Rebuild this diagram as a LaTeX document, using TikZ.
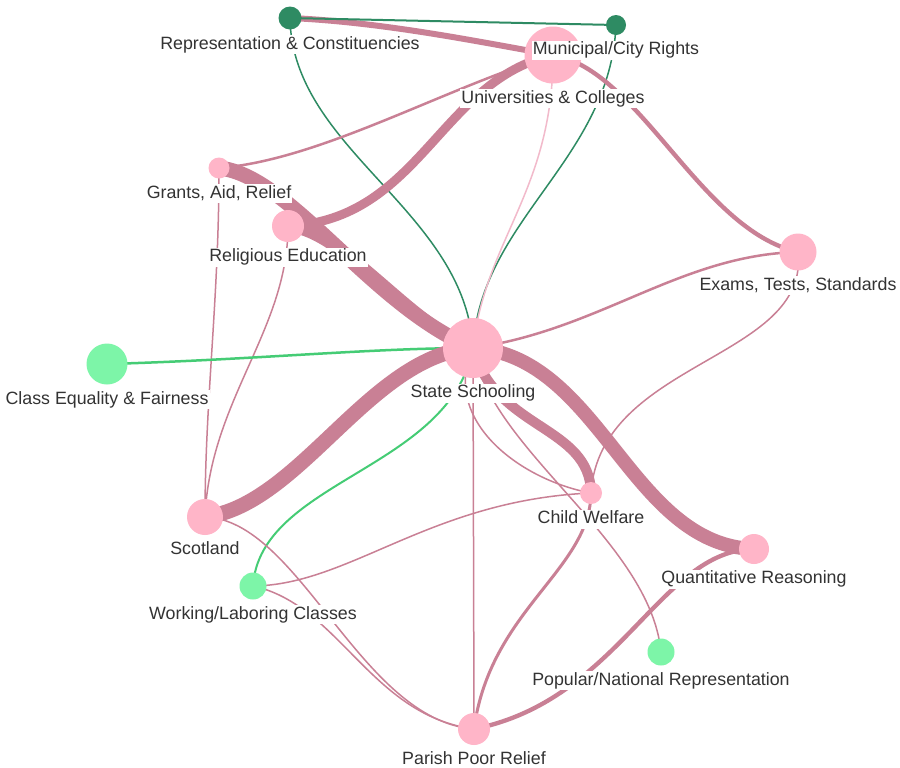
\documentclass[tikz,border=0pt]{standalone}
\usepackage{fontspec}
\setmainfont{Liberation Sans}
\usetikzlibrary{positioning,backgrounds}
\definecolor{tpPink}{HTML}{FFB5C8}
\definecolor{tpRose}{HTML}{C98095}
\definecolor{tpBlush}{HTML}{F2BACB}
\definecolor{tpPine}{HTML}{2E8B63}
\definecolor{tpMint}{HTML}{7DF5A8}
\definecolor{tpLeaf}{HTML}{45CC75}
\definecolor{tpInk}{HTML}{333333}
\tikzset{
  topic/.style={circle, inner sep=0pt, draw=none},
  pinktopic/.style={topic, fill=tpPink},
  pinetopic/.style={topic, fill=tpPine},
  minttopic/.style={topic, fill=tpMint},
  tag/.style={
    fill=white, inner sep=1pt, text=tpInk,
    font=\fontsize{15.2pt}{18pt}\selectfont, text height=11pt, text depth=3pt
  },
  link/.style={draw=tpRose, line width=#1},
  link/.default=0.45mm,
  blushlink/.style={draw=tpBlush, line width=#1},
  blushlink/.default=0.45mm,
  pinelink/.style={draw=tpPine, line width=#1},
  pinelink/.default=0.45mm,
  leaflink/.style={draw=tpLeaf, line width=#1},
  leaflink/.default=0.6mm
}
\begin{document}
\begin{tikzpicture}[x=0.3mm, y=-0.3mm, node distance=1.6mm]
  \useasboundingbox (0,0) rectangle (900,767);
  % topics
  \node[pinetopic, minimum size=6.9mm] (rc) at (290,18) {};
  \node[pinetopic, minimum size=6mm] (mcr) at (616,25) {};
  \node[pinktopic, minimum size=17.1mm] (uc) at (553,55) {};
  \node[pinktopic, minimum size=6.3mm] (gar) at (219,168) {};
  \node[pinktopic, minimum size=9.6mm] (re) at (288,226) {};
  \node[pinktopic, minimum size=11.1mm] (ets) at (798,252) {};
  \node[minttopic, minimum size=12.3mm] (cef) at (107,364) {};
  \node[pinktopic, minimum size=18mm] (ss) at (473,348) {};
  \node[pinktopic, minimum size=6.6mm] (cw) at (591,493) {};
  \node[pinktopic, minimum size=10.8mm] (sc) at (205,517) {};
  \node[pinktopic, minimum size=9mm] (qr) at (754,549) {};
  \node[minttopic, minimum size=8.1mm] (wlc) at (253,586) {};
  \node[minttopic, minimum size=8.1mm] (pnr) at (661,652) {};
  \node[pinktopic, minimum size=9.6mm] (ppr) at (474,729) {};

  % links, behind the topics
  \begin{scope}[on background layer]
    \fill[white] (0,0) rectangle (900,767);
    \draw[link=1.8mm] (rc.center) .. controls (380,22) and (470,40) .. (uc.center);
    \draw[pinelink=0.6mm] (rc.center) -- (mcr.center);
    \draw[pinelink] (rc.center) .. controls (292,150) and (465,210) .. (ss.center);
    \draw[pinelink] (mcr.center) .. controls (610,160) and (480,220) .. (ss.center);
    \draw[blushlink] (uc.center) .. controls (553,190) and (485,240) .. (ss.center);
    \draw[link=0.75mm] (gar.center) .. controls (320,160) and (440,90) .. (uc.center);
    \draw[link=2.7mm] (uc.center) .. controls (440,80) and (420,220) .. (re.center);
    \draw[link=1.3mm] (uc.center) .. controls (640,70) and (700,230) .. (ets.center);
    \draw[link=4.5mm] (gar.center) .. controls (290,175) and (370,305) .. (ss.center);
    \draw[link=3.6mm] (re.center) .. controls (345,232) and (410,325) .. (ss.center);
    \draw[link] (gar.center) .. controls (219,300) and (205,400) .. (sc.center);
    \draw[link] (re.center) .. controls (288,330) and (210,400) .. (sc.center);
    \draw[leaflink=0.75mm] (cef.center) .. controls (250,360) and (370,348) .. (ss.center);
    \draw[link=0.75mm] (ss.center) .. controls (600,330) and (680,255) .. (ets.center);
    \draw[link=4.5mm] (ss.center) .. controls (370,355) and (300,505) .. (sc.center);
    \draw[leaflink] (ss.center) .. controls (450,470) and (260,480) .. (wlc.center);
    \draw[link=3mm] (ss.center) .. controls (495,430) and (590,425) .. (cw.center);
    \draw[link] (ss.center) .. controls (440,420) and (520,480) .. (cw.center);
    \draw[link] (ss.center) .. controls (490,450) and (650,540) .. (pnr.center);
    \draw[link=4.2mm] (ss.center) .. controls (600,355) and (630,545) .. (qr.center);
    \draw[link] (ss.center) -- (ppr.center);
    \draw[link] (ets.center) .. controls (810,360) and (600,360) .. (cw.center);
    \draw[link] (sc.center) .. controls (300,520) and (360,720) .. (ppr.center);
    \draw[link] (wlc.center) .. controls (340,605) and (370,715) .. (ppr.center);
    \draw[link] (wlc.center) .. controls (350,585) and (430,500) .. (cw.center);
    \draw[link=0.9mm] (cw.center) .. controls (590,570) and (490,610) .. (ppr.center);
    \draw[link=1.3mm] (qr.center) .. controls (660,550) and (620,700) .. (ppr.center);
  \end{scope}

  % labels
  \foreach \n/\t in {rc/{Representation \& Constituencies}, mcr/{Municipal/City Rights},
      uc/{Universities \& Colleges}, gar/{Grants, Aid, Relief}, re/{Religious Education},
      ets/{Exams, Tests, Standards}, cef/{Class Equality \& Fairness}, ss/{State Schooling},
      cw/{Child Welfare}, sc/{Scotland}, qr/{Quantitative Reasoning},
      wlc/{Working/Laboring Classes}, pnr/{Popular/National Representation},
      ppr/{Parish Poor Relief}}
    {\node[tag, below=of \n] (\n-l) {\t};}
\end{tikzpicture}
\end{document}
